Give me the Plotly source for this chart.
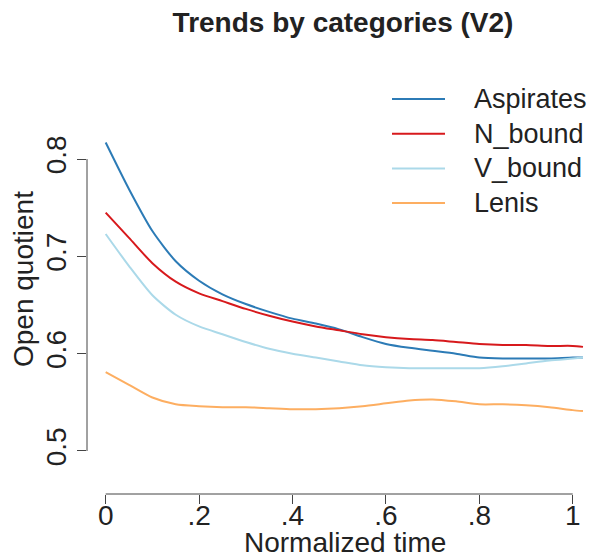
import plotly.graph_objects as go

# ---- data ----
time_pts = [0.0, 0.05, 0.10, 0.15, 0.20, 0.25, 0.30, 0.35, 0.40, 0.45, 0.50,
            0.55, 0.60, 0.65, 0.70, 0.75, 0.80, 0.85, 0.90, 0.95, 1.00, 1.022]
aspirates = [0.817, 0.769, 0.726, 0.695, 0.675, 0.661, 0.651, 0.643, 0.636, 0.631, 0.625,
             0.617, 0.610, 0.606, 0.603, 0.600, 0.596, 0.595, 0.595, 0.595, 0.596, 0.596]
n_bound = [0.745, 0.719, 0.693, 0.674, 0.662, 0.654, 0.646, 0.639, 0.633, 0.628, 0.624,
           0.620, 0.617, 0.615, 0.614, 0.612, 0.610, 0.609, 0.609, 0.608, 0.608, 0.607]
v_bound = [0.723, 0.690, 0.660, 0.640, 0.628, 0.620, 0.612, 0.605, 0.600, 0.596, 0.592,
           0.588, 0.586, 0.585, 0.585, 0.585, 0.585, 0.587, 0.590, 0.593, 0.595, 0.596]
lenis = [0.581, 0.568, 0.555, 0.548, 0.546, 0.545, 0.545, 0.544, 0.543, 0.543, 0.544,
         0.546, 0.549, 0.552, 0.553, 0.551, 0.548, 0.548, 0.547, 0.545, 0.542, 0.541]

series_names = ["Aspirates", "N_bound", "V_bound", "Lenis"]
series_values = [aspirates, n_bound, v_bound, lenis]
series_colors = ["#2C7BB6", "#D7191C", "#ABD9E9", "#FDAE61"]

x_tickvals = [0, 0.2, 0.4, 0.6, 0.8, 1.0]
x_ticktext = ["0", ".2", ".4", ".6", ".8", "1"]
y_tickvals = [0.5, 0.6, 0.7, 0.8]
y_ticktext = ["0.5", "0.6", "0.7", "0.8"]

FONT = "Liberation Sans, Arial, sans-serif"
TXT = "#222222"
AX = "#444444"

# plot area in pixels (R-style plot region)
W, H = 590, 560
L, R, T, B = 87, 0, 60, 66
PW, PH = W - L - R, H - T - B
X_RANGE = [-0.040, 1.037]


def px_x(px):
    return (px - L) / PW


def px_y(py):
    return (H - B - py) / PH


fig = go.Figure()
for name, vals, col in zip(series_names, series_values, series_colors):
    fig.add_trace(go.Scatter(
        x=time_pts, y=vals, mode="lines", name=name, showlegend=False,
        line=dict(color=col, width=2, shape="spline", smoothing=0.7),
    ))
# invisible helper trace carrying the x tick labels on an overlaid axis
fig.add_trace(go.Scatter(x=[time_pts[0]], y=[lenis[0]], xaxis="x2", mode="lines",
                         showlegend=False, hoverinfo="skip", line=dict(width=0)))

# R-style axis lines spanning only first..last tick
fig.add_shape(type="line", xref="paper", yref="y", x0=0, x1=0,
              y0=y_tickvals[0], y1=y_tickvals[-1], line=dict(color=AX, width=1))
fig.add_shape(type="line", xref="x", yref="paper", x0=x_tickvals[0], x1=x_tickvals[-1],
              y0=0, y1=0, line=dict(color=AX, width=1))

# R-style legend (no box): key line + label per series
leg_top, leg_step = 99, 34.7
for i, (name, col) in enumerate(zip(series_names, series_colors)):
    yy = px_y(leg_top + i * leg_step)
    fig.add_shape(type="line", xref="paper", yref="paper", x0=px_x(392), x1=px_x(445),
                  y0=yy, y1=yy, line=dict(color=col, width=2))
    fig.add_annotation(text=name, xref="paper", yref="paper", x=px_x(472), y=yy,
                       xanchor="left", yanchor="middle", showarrow=False,
                       font=dict(family=FONT, size=27, color=TXT))

# axis titles
fig.add_annotation(text="Normalized time", xref="paper", yref="paper",
                   x=px_x(345), y=px_y(560), xanchor="center", yanchor="bottom",
                   showarrow=False, font=dict(family=FONT, size=28, color=TXT))
fig.add_annotation(text="Open quotient", xref="paper", yref="paper",
                   x=px_x(23), y=px_y(279), xanchor="center", yanchor="middle",
                   textangle=-90, showarrow=False, font=dict(family=FONT, size=28, color=TXT))

fig.update_layout(
    width=W, height=H,
    margin=dict(l=L, r=R, t=T, b=B),
    paper_bgcolor="white", plot_bgcolor="white",
    font=dict(family=FONT, size=28, color=TXT),
    title=dict(text="<b>Trends by categories (V2)</b>", x=343 / W, xref="container",
               y=1 - 22 / H, yref="container", yanchor="middle", xanchor="center",
               font=dict(family=FONT, size=28, color=TXT)),
    xaxis=dict(range=X_RANGE, showgrid=False, zeroline=False, showline=False,
               tickvals=x_tickvals, ticks="outside", ticklen=9,
               tickcolor=AX, tickwidth=1, showticklabels=False),
    xaxis2=dict(range=X_RANGE, overlaying="x", anchor="y", side="bottom",
                showgrid=False, zeroline=False, showline=False,
                tickvals=x_tickvals, ticktext=x_ticktext, ticks="",
                tickfont=dict(size=28, color=TXT), ticklabelstandoff=2),
    yaxis=dict(range=[0.4558, 0.9018], showgrid=False, zeroline=False, showline=False,
               tickvals=y_tickvals, ticktext=y_ticktext, ticks="outside", ticklen=9,
               tickcolor=AX, tickwidth=1, tickangle=-90, tickfont=dict(size=28, color=TXT)),
    showlegend=False,
)

fig.write_html("out.html")
